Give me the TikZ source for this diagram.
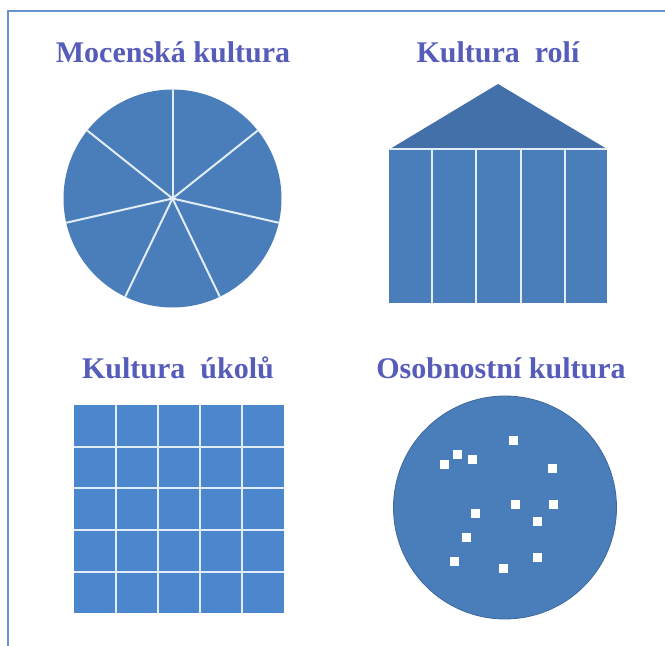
\documentclass[tikz,border=0pt]{standalone}
\usepackage{fontspec}
\setmainfont{Liberation Serif}
\definecolor{titlec}{RGB}{86,92,186}
\definecolor{shapec}{RGB}{74,126,187}
\definecolor{gridc}{RGB}{76,134,205}
\definecolor{roofc}{RGB}{67,112,168}
\definecolor{edgec}{RGB}{62,104,155}
\definecolor{sepc}{RGB}{225,236,246}
\definecolor{framec}{RGB}{106,146,206}
\begin{document}
\begin{tikzpicture}[x=1pt,y=-1pt,
  title/.style={font=\bfseries\fontsize{30}{32}\selectfont, text=titlec, inner sep=0pt, anchor=base},
  shapefill/.style={fill=shapec},
  sep/.style={draw=sepc, line width=2pt},
  dot/.style={fill=white}]
\useasboundingbox (0,0) rectangle (665,646);
\fill[white] (0,0) rectangle (665,646);
% frame
\draw[framec, line width=2pt] (665,11) -- (8,11) -- (8,646);

% titles
\node[title] (t1) at (173,62) {Mocenská kultura};
\node[title] (t2) at (498,62) {Kultura\ \ rolí};
\node[title] (t3) at (178,378) {Kultura\ \ úkolů};
\node[title] (t4) at (501,378) {Osobnostní kultura};

% power culture: pie
\coordinate (pc) at (172.5,198.5);
\fill[shapefill] (pc) circle (109);
\foreach \k in {0,...,6}
  \draw[sep] (pc) -- ++({-90+\k*360/7}:109);

% role culture: temple
\fill[roofc] (390,149) -- (498,84) -- (607,149) -- cycle;
\fill[shapefill] (389,149) rectangle (607,303);
\draw[sep] (389,149) -- (607,149);
\foreach \x in {432,476,521,565}
  \draw[sep] (\x,149) -- (\x,303);

% task culture: grid
\fill[gridc] (74,405) rectangle (284,613);
\foreach \x in {116,158,200,242}
  \draw[sep] (\x,405) -- (\x,613);
\foreach \y in {447,488,530,572}
  \draw[sep] (74,\y) -- (284,\y);

% person culture: circle with dots
\coordinate (oc) at (505,507.5);
\fill[shapefill, draw=edgec, line width=0.8pt] (oc) circle (111.5);
\foreach \p/\q in {513/440, 457/454, 444/464, 472/459, 552/468, 515/504,
                   553/504, 475/513, 537/521, 466/537, 454/561, 503/568, 537/557}
  \fill[dot] (\p-4.5,\q-4.5) rectangle ++(9,9);
\end{tikzpicture}
\end{document}
